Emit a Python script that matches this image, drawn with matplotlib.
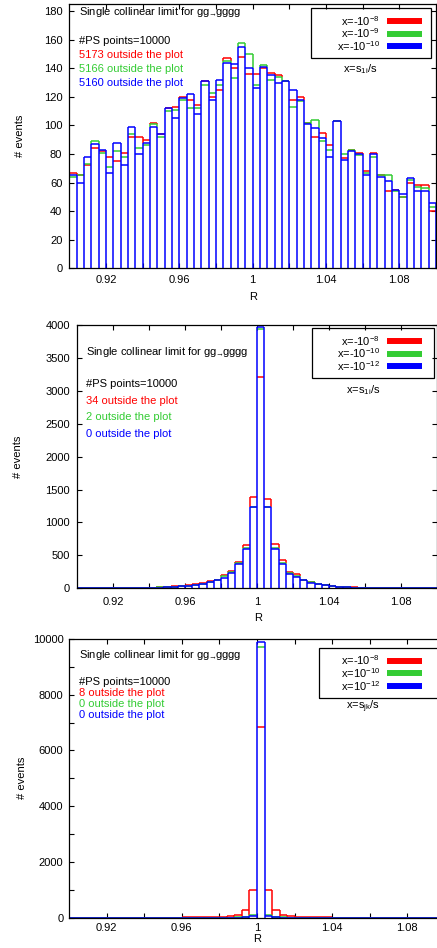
import numpy as np
import matplotlib
matplotlib.use("Agg")
import matplotlib.pyplot as plt
from matplotlib.patches import Rectangle
from matplotlib.lines import Line2D

plt.rcParams['font.family'] = ['Liberation Sans', 'DejaVu Sans']
plt.rcParams['mathtext.fontset'] = 'custom'
plt.rcParams['mathtext.rm'] = 'Liberation Sans'
plt.rcParams['mathtext.it'] = 'Liberation Sans'
plt.rcParams['mathtext.sf'] = 'Liberation Sans'

W, H = 437, 948
FS = 8

# bin edges of R, 50 bins of width 0.004
edges = np.round(0.9 + 0.004 * np.arange(51), 4)

# ---- panel 1 : x = s_1i/s, x = -1e-8, -1e-9, -1e-10
top_red = [67, 65, 72, 84, 82, 78, 75, 81, 92, 92, 90, 102, 94, 112, 113, 120, 118, 114, 131, 120,
           125, 147, 140, 148, 136, 136, 140, 137, 135, 131, 118, 120, 102, 92, 95, 86, 103, 77, 83, 81,
           68, 81, 65, 54, 55, 50, 60, 58, 58, 40]
top_green = [64, 65, 73, 89, 81, 71, 82, 78, 94, 84, 86, 101, 92, 110, 111, 118, 112, 112, 128, 123,
             128, 145, 133, 158, 150, 128, 142, 132, 134, 131, 113, 117, 102, 104, 89, 83, 103, 80, 83, 79,
             67, 78, 65, 65, 54, 50, 62, 57, 56, 43]
top_blue = [65, 60, 78, 87, 83, 67, 88, 72, 99, 80, 88, 99, 94, 112, 105, 119, 122, 108, 131, 118,
            132, 144, 143, 155, 140, 126, 141, 135, 130, 131, 125, 118, 101, 98, 91, 78, 103, 76, 82, 80,
            65, 80, 64, 61, 55, 52, 63, 54, 54, 46]

# ---- panel 2 : x = s_1i/s, x = -1e-8, -1e-10, -1e-12
mid_red = [0, 0, 0, 0, 0, 0, 0, 1, 2, 4, 8, 15, 22, 30, 40, 50, 60, 76, 108, 130,
           195, 258, 400, 655, 1384, 3209, 1354, 668, 436, 253, 210, 130, 100, 72, 48, 32, 26, 20, 13, 9,
           5, 3, 1, 0, 0, 0, 0, 0, 0, 0]
mid_green = [0, 0, 0, 0, 0, 0, 0, 1, 2, 3, 6, 13, 19, 26, 34, 42, 52, 68, 98, 125,
             180, 243, 380, 615, 1240, 3940, 1240, 605, 380, 240, 185, 127, 92, 68, 46, 30, 26, 18, 12, 8,
             5, 2, 1, 0, 0, 0, 0, 0, 0, 0]
mid_blue = [0, 0, 0, 0, 0, 0, 0, 1, 2, 3, 6, 12, 18, 24, 30, 38, 48, 62, 92, 120,
            162, 225, 362, 593, 1232, 3968, 1232, 597, 362, 220, 165, 124, 86, 66, 45, 28, 26, 16, 12, 8,
            5, 2, 1, 0, 0, 0, 0, 0, 0, 0]

# ---- panel 3 : x = s_jk/s, x = -1e-8, 1e-10, 1e-12
bot_red = [0, 0, 0, 0, 0, 0, 0, 0, 0, 0, 2, 4, 5, 6, 7, 8, 9, 10, 12, 20,
           36, 50, 105, 265, 985, 6850, 985, 265, 90, 50, 24, 12, 10, 9, 8, 7, 6, 5, 4, 3,
           2, 0, 0, 0, 0, 0, 0, 0, 0, 0]
bot_green = [0, 0, 0, 0, 0, 0, 0, 0, 0, 0, 0, 0, 0, 0, 0, 0, 0, 0, 0, 0,
             2, 5, 10, 25, 97, 9724, 97, 25, 10, 5, 2, 0, 0, 0, 0, 0, 0, 0, 0, 0,
             0, 0, 0, 0, 0, 0, 0, 0, 0, 0]
bot_blue = [0, 0, 0, 0, 0, 0, 0, 0, 0, 0, 0, 0, 0, 0, 0, 0, 0, 0, 0, 0,
            0, 2, 4, 10, 50, 9880, 50, 10, 4, 2, 0, 0, 0, 0, 0, 0, 0, 0, 0, 0,
            0, 0, 0, 0, 0, 0, 0, 0, 0, 0]

xtick_pos = [0.92, 0.94, 0.96, 0.98, 1.0, 1.02, 1.04, 1.06, 1.08]
xtick_lab = ['0.92', '', '0.96', '', '1', '', '1.04', '', '1.08']

RED, GREEN, BLUE = '#ff0000', '#33cc33', '#0000ff'
LW = 1.1


def fx(x):
    return x / W


def fy(y):
    return 1 - y / H


fig = plt.figure(figsize=(W / 100, H / 100), dpi=100)


def boxes(ax, series):
    # gnuplot-like "with boxes" outlines; later series lie on top, so each
    # vertical edge is only drawn where no later series already covers it
    vals = [np.asarray(v, float) for v, c in series]
    edge_h = [np.maximum(np.concatenate([[0], v]), np.concatenate([v, [0]])) for v in vals]
    for i, (v, col) in enumerate(zip(vals, [c for _, c in series])):
        if i < len(vals) - 1:
            lo = np.max(edge_h[i + 1:], axis=0)
        else:
            lo = np.zeros_like(edge_h[i])
        m = edge_h[i] > lo
        ax.vlines(edges[m], lo[m], edge_h[i][m], colors=col, linewidth=LW)
        ax.hlines(v, edges[:-1], edges[1:], colors=col, linewidth=LW)


def panel(box, ymax, ystep, ylab_every, series, xpad, ypad):
    left, top, right, bottom = box
    ax = fig.add_axes([fx(left), fy(bottom), (right - left) / W, (bottom - top) / H])
    boxes(ax, series)
    ax.set_xlim(0.9, 1.1)
    ax.set_ylim(0, ymax)
    ax.set_xticks(xtick_pos)
    ax.set_xticklabels(xtick_lab)
    yt = np.arange(0, ymax + 1, ystep)
    ax.set_yticks(yt)
    ax.set_yticklabels([('%d' % v if (v / ystep) % ylab_every == 0 else '') for v in yt])
    ax.tick_params(axis='x', direction='in', length=3.5, width=0.8, top=True, pad=xpad, labelsize=FS)
    ax.tick_params(axis='y', direction='in', length=3.5, width=0.8, right=True, pad=ypad, labelsize=FS)
    for s in ax.spines.values():
        s.set_linewidth(0.9)
        s.set_zorder(5)
    return ax


def texts(x, ys, line_titles):
    for y, (txt, col) in zip(ys, line_titles):
        fig.text(fx(x), fy(y), txt, color=col, fontsize=FS, ha='left', va='center')


def legend(box, rows, labels, note, note_xy):
    x0, y0, x1, y1 = box
    fig.patches.append(Rectangle((fx(x0), fy(y1)), (x1 - x0) / W, (y1 - y0) / H,
                                 transform=fig.transFigure, fill=False,
                                 edgecolor='black', linewidth=0.9))
    for y, (lab, col) in zip(rows, labels):
        fig.text(fx(380), fy(y), lab, fontsize=FS, ha='right', va='center')
        fig.lines.append(Line2D([fx(387), fx(422)], [fy(y), fy(y)], transform=fig.transFigure,
                                color=col, linewidth=4.3, solid_capstyle='butt'))
    fig.text(fx(note_xy[0]), fy(note_xy[1]), note, fontsize=FS, ha='center', va='center')


title = r'Single collinear limit for gg$\!_{\rightarrow}\!\!$gggg'

# panel 1
panel((69.3, 4, 436, 268.3), 185, 20, 1,
      [(top_red, RED), (top_green, GREEN), (top_blue, BLUE)], 5.0, 5.0)
texts(79, [12, 40.7, 54.5, 69, 83],
      [(title, 'black'), ('#PS points=10000', 'black'), ('5173 outside the plot', RED),
       ('5166 outside the plot', GREEN), ('5160 outside the plot', BLUE)])
legend((311, 8, 431, 58), [21, 33.5, 46],
       [(r'x=-10$^{-8}$', RED), (r'x=-10$^{-9}$', GREEN), (r'x=-10$^{-10}$', BLUE)],
       r'x=s$_{1i}$/s', (360, 69))
fig.text(fx(20), fy(136), '# events', fontsize=FS, rotation=90, ha='center', va='center')
fig.text(fx(253), fy(297), 'R', fontsize=FS, ha='center', va='center')

# panel 2
panel((77, 325, 437, 588.3), 4000, 500, 1,
      [(mid_red, RED), (mid_green, GREEN), (mid_blue, BLUE)], 6.5, 5.0)
texts(86, [351.7, 384, 400.7, 417.3, 434],
      [(title, 'black'), ('#PS points=10000', 'black'), ('34 outside the plot', RED),
       ('2 outside the plot', GREEN), ('0 outside the plot', BLUE)])
legend((312, 328, 434, 378), [341, 353.5, 366],
       [(r'x=-10$^{-8}$', RED), (r'x=-10$^{-10}$', GREEN), (r'x=-10$^{-12}$', BLUE)],
       r'x=s$_{1i}$/s', (363, 390))
fig.text(fx(18), fy(457), '# events', fontsize=FS, rotation=90, ha='center', va='center')
fig.text(fx(258), fy(618), 'R', fontsize=FS, ha='center', va='center')

# panel 3
panel((69, 639, 445, 917.7), 10000, 1000, 2,
      [(bot_red, RED), (bot_green, GREEN), (bot_blue, BLUE)], 3.5, 4.0)
texts(79, [655, 681.7, 692.7, 703.7, 715],
      [(title, 'black'), ('#PS points=10000', 'black'), ('8 outside the plot', RED),
       ('0 outside the plot', GREEN), ('0 outside the plot', BLUE)])
legend((319, 648.3, 438, 698.3), [660.5, 673.3, 686],
       [(r'x=-10$^{-8}$', RED), (r'x=10$^{-10}$', GREEN), (r'x=10$^{-12}$', BLUE)],
       r'x=s$_{jk}$/s', (363, 707))
fig.text(fx(22), fy(778), '# events', fontsize=FS, rotation=90, ha='center', va='center')
fig.text(fx(257), fy(939), 'R', fontsize=FS, ha='center', va='center')

fig.savefig('out.png', dpi=100)
